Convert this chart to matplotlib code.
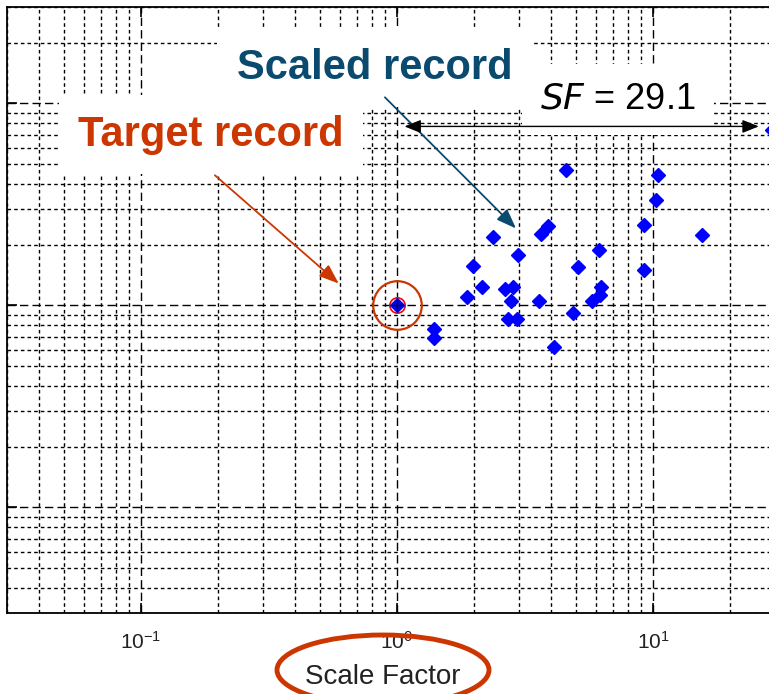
"""Scale factor scatter: target record vs scaled records (log-log)."""

import matplotlib.pyplot as plt
from matplotlib.patches import Ellipse

plt.rcParams["font.family"] = ["Liberation Sans", "DejaVu Sans"]
plt.rcParams["mathtext.fontset"] = "custom"
plt.rcParams["mathtext.rm"] = "Liberation Sans"

# Scaled records (scale factor, ratio)
scale_factor = [4.56, 10.5, 10.3, 9.20, 15.6, 3.89, 3.64, 2.37, 6.17, 2.97,
                1.99, 5.09, 9.20, 2.15, 2.64, 2.83, 6.28, 6.19, 1.87, 2.78,
                3.59, 5.79, 4.88, 2.72, 2.94, 1.40, 1.40, 4.09, 29.1]
ratio = [4.70, 4.44, 3.31, 2.51, 2.22, 2.46, 2.26, 2.17, 1.89, 1.77,
         1.57, 1.55, 1.49, 1.24, 1.21, 1.24, 1.24, 1.13, 1.10, 1.05,
         1.05, 1.05, 0.916, 0.859, 0.859, 0.764, 0.690, 0.622, 7.35]

target_sf = 1.0
target_ratio = 1.0
max_sf = 29.1

xlim = (0.03, 100)
ylim = (0.03, 30)
xticks = [0.1, 1, 10]

ORANGE = "#CC3600"
NAVY = "#0B4A6F"

W, H = 769, 694
fig = plt.figure(figsize=(W / 100, H / 100), dpi=100)
ax = fig.add_axes([7 / W, (H - 613) / H, 902 / W, 606 / H])
ax.set_xscale("log")
ax.set_yscale("log")
ax.set_xlim(*xlim)
ax.set_ylim(*ylim)
ax.set_xticks(xticks)

# grid in MATLAB style
ax.grid(True, which="major", color="black", linewidth=1.0, linestyle=(0, (6, 3)))
ax.grid(True, which="minor", color="black", linewidth=1.0, linestyle=(0, (2.6, 2.2)))
ax.set_axisbelow(True)

ax.tick_params(which="both", direction="in", top=True, right=True, colors="black")
ax.tick_params(which="major", length=7, width=1.2, labelsize=15, pad=13,
               labelcolor="#222222")
ax.tick_params(which="minor", length=0)
ax.tick_params(axis="y", labelleft=False)
for sp in ax.spines.values():
    sp.set_linewidth(1.3)

ax.set_xlabel("Scale Factor", fontsize=20, color="#222222")
ax.xaxis.set_label_coords((383 - 7) / 902, (613 - 664) / 606)

# data
ax.plot(scale_factor, ratio, linestyle="none", marker="D", markersize=7,
        color="blue", zorder=3)
ax.plot([target_sf], [target_ratio], linestyle="none", marker="o", markersize=11,
        markerfacecolor="none", markeredgecolor="red", markeredgewidth=1.2, zorder=3)
ax.plot([target_sf], [target_ratio], linestyle="none", marker="D", markersize=7,
        color="blue", zorder=4)
ax.plot([target_sf], [target_ratio], linestyle="none", marker="+", markersize=8,
        color="black", markeredgewidth=1, zorder=5)
ax.plot([target_sf], [target_ratio], linestyle="none", marker="o", markersize=35,
        markerfacecolor="none", markeredgecolor=ORANGE, markeredgewidth=1.6, zorder=5)

# annotations
box = dict(boxstyle="square,pad=0.47", facecolor="white", edgecolor="none")
ax.text(0.188, 7.0, "Target record", fontsize=30, fontweight="bold",
        color=ORANGE, ha="center", va="center", bbox=box, zorder=6)
ax.text(0.82, 15.0, "Scaled record", fontsize=30, fontweight="bold",
        color=NAVY, ha="center", va="center", bbox=box, zorder=7)
ax.text(7.3, 10.5, r"$\it{SF}$ = 29.1", fontsize=26, color="black",
        ha="center", va="center",
        bbox=dict(boxstyle="square,pad=0.5", facecolor="white", edgecolor="none"),
        zorder=6)

ax.annotate("", xy=(0.604, 1.256), xytext=(0.191, 4.5),
            arrowprops=dict(arrowstyle="-|>,head_length=1.2,head_width=0.45",
                            color=ORANGE, lw=1.3), zorder=8)
ax.annotate("", xy=(2.97, 2.35), xytext=(0.882, 10.96),
            arrowprops=dict(arrowstyle="-|>,head_length=1.2,head_width=0.45",
                            color=NAVY, lw=1.3), zorder=8)
ax.annotate("", xy=(target_sf * 1.07, 7.69), xytext=(max_sf * 0.89, 7.69),
            arrowprops=dict(arrowstyle="<|-|>,head_length=1.0,head_width=0.4",
                            color="black", lw=1.0, shrinkA=0, shrinkB=0), zorder=8)

# highlight of the axis label
fig.patches.append(Ellipse((383 / W, 1 - 670 / H), 212 / W, 70 / H,
                           transform=fig.transFigure, fill=False,
                           edgecolor=ORANGE, linewidth=3.5, zorder=10))

fig.savefig("out.png", dpi=100)
